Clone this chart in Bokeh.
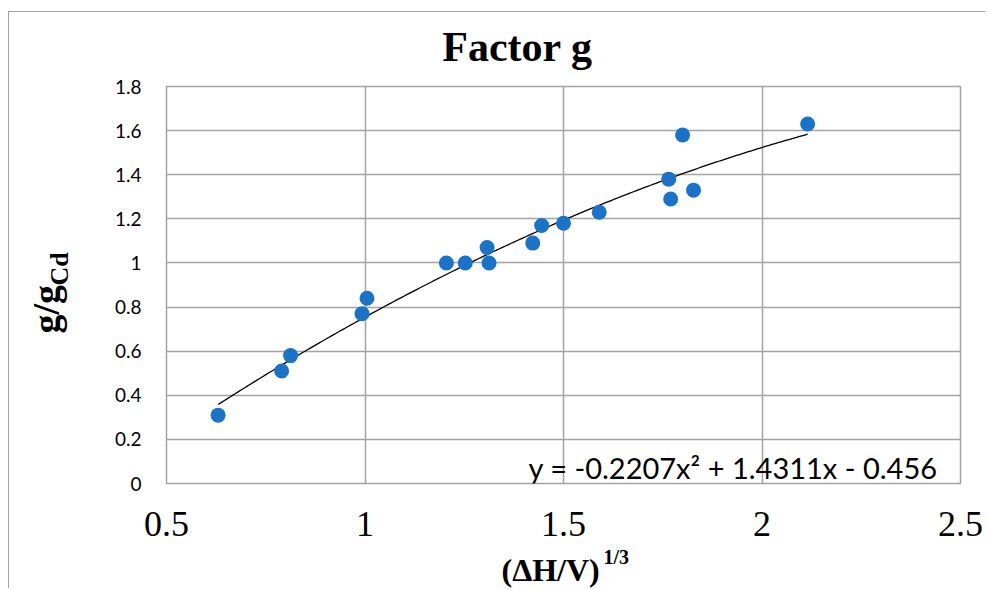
import numpy as np
from bokeh.plotting import figure
from bokeh.models import Range1d, FixedTicker, Label
from bokeh.embed import file_html
from bokeh.resources import INLINE

# ---- data ----
x_vals = [0.63, 0.79, 0.8125, 0.9925, 1.005, 1.205, 1.2525, 1.3125, 1.3075,
          1.4225, 1.445, 1.50, 1.59, 1.765, 1.77, 1.80, 1.8275, 2.115]
y_vals = [0.31, 0.51, 0.58, 0.77, 0.84, 1.00, 1.00, 1.00, 1.07,
          1.09, 1.17, 1.18, 1.23, 1.38, 1.29, 1.58, 1.33, 1.63]
x_ticks = [0.5, 1, 1.5, 2, 2.5]
y_ticks = [0, 0.2, 0.4, 0.6, 0.8, 1.0, 1.2, 1.4, 1.6, 1.8]
trend_coeffs = [-0.2207, 1.4311, -0.456]   # from the chart's trendline equation
title_text = "Factor g"
equation_text = "y = -0.2207x\u00b2 + 1.4311x - 0.456"

SERIF = "Liberation Serif"
SANS = "Lato"
GRID = "#a3a3a3"

p = figure(width=977, height=577, output_backend="svg", toolbar_location=None,
           x_range=Range1d(0.5, 2.5), y_range=Range1d(0, 1.8),
           min_border_left=157, min_border_right=26, min_border_top=74,
           min_border_bottom=106, background_fill_color="white",
           border_fill_color="white")
# outer chart-area border (top and left edges visible in the window)
p.styles = {"margin-left": "8px", "margin-top": "11px",
            "border-top": "1px solid " + GRID, "border-left": "1px solid " + GRID}
p.title.visible = False
p.outline_line_color = GRID
p.outline_line_width = 1.5

p.xaxis.ticker = FixedTicker(ticks=x_ticks)
p.yaxis.ticker = FixedTicker(ticks=y_ticks)
p.yaxis.major_label_overrides = {0: "0", 1.0: "1"}
p.xaxis.major_label_overrides = {1: "1", 2: "2"}
for ax in (p.xaxis[0], p.yaxis[0]):
    ax.axis_line_color = None
    ax.major_tick_line_color = None
    ax.minor_tick_line_color = None
    ax.major_tick_out = 0
    ax.major_tick_in = 0
p.yaxis.major_label_text_font = SANS
p.yaxis.major_label_text_font_size = "19px"
p.yaxis.major_label_text_color = "#000000"
p.yaxis.major_label_standoff = 25
p.xaxis.major_label_text_font = SERIF
p.xaxis.major_label_text_font_size = "36px"
p.xaxis.major_label_text_color = "#000000"
p.xaxis.major_label_standoff = 28

p.xgrid.grid_line_color = GRID
p.ygrid.grid_line_color = GRID
p.xgrid.grid_line_width = 1.5
p.ygrid.grid_line_width = 1.5

# trendline
xt = np.linspace(min(x_vals), max(x_vals), 200)
yt = np.polyval(trend_coeffs, xt)
p.line(xt, yt, line_color="black", line_width=1.3)

# points
p.scatter(x_vals, y_vals, size=15, fill_color="#1a73c8", line_color=None)


def lab(x, y, text, font, size, bold=False, angle=0.0, align="left"):
    return Label(x=x, y=y, x_units="canvas", y_units="canvas", text=text,
                 text_font=font, text_font_size=size,
                 text_font_style="bold" if bold else "normal",
                 angle=angle, text_align=align, text_baseline="middle",
                 text_color="black")


# equation (inside plot area)
p.add_layout(lab(518, 454, equation_text, SANS, "29px"))

# title
p.add_layout(lab(507, 33, title_text, SERIF, "42px", bold=True, align="center"), "above")

# x axis title with superscript
p.add_layout(lab(491, 556, "(\u0394H/V)", SERIF, "32px", bold=True), "below")
p.add_layout(lab(593, 543, "1/3", SERIF, "20px", bold=True), "right")

# y axis title with subscript (rotated)
p.add_layout(lab(35, 320, "g/g", SERIF, "38px", bold=True, angle=np.pi / 2), "left")
p.add_layout(lab(49, 272, "Cd", SERIF, "26px", bold=True, angle=np.pi / 2), "left")

open("out.html", "w").write(file_html(p, INLINE))
